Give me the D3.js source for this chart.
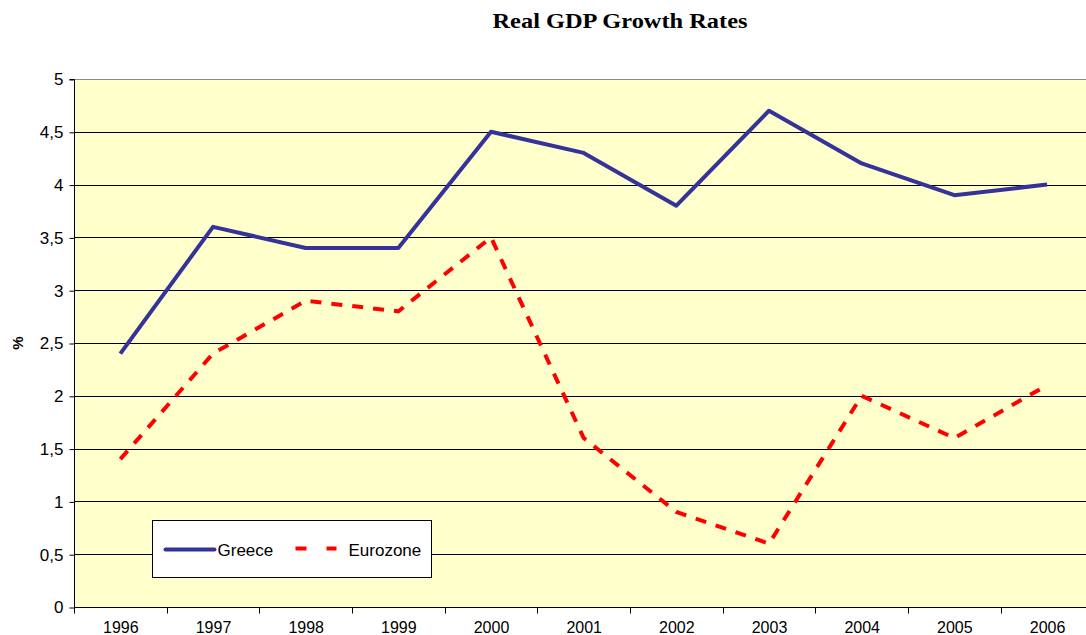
<!DOCTYPE html>
<html>
<head>
<meta charset="utf-8">
<script src="https://cdn.jsdelivr.net/npm/d3@7"></script>
<style>
  body { margin: 0; background: #fff; }
  svg { display: block; }
</style>
</head>
<body>
<script>
const years = ["1996", "1997", "1998", "1999", "2000", "2001", "2002", "2003", "2004", "2005", "2006"];
const greece = [2.4, 3.6, 3.4, 3.4, 4.5, 4.3, 3.8, 4.7, 4.2, 3.9, 4.0];
const eurozone = [1.4, 2.4, 2.9, 2.8, 3.5, 1.6, 0.9, 0.6, 2.0, 1.6, 2.1];
const yTicks = [0, 0.5, 1, 1.5, 2, 2.5, 3, 3.5, 4, 4.5, 5];

const config = {
    width: 1086,
    height: 635,
    left: 74,
    top: 79,
    bottom: 607,
    band: 92.67
};

const svg = d3.select("body").append("svg")
    .attr("width", config.width)
    .attr("height", config.height);

const x = d3.scaleBand()
    .domain(years)
    .range([config.left, config.left + config.band * years.length]);

const y = d3.scaleLinear()
    .domain([0, 5])
    .range([config.bottom, config.top]);

// plot background
svg.append("rect")
    .attr("x", config.left)
    .attr("y", config.top)
    .attr("width", config.band * years.length)
    .attr("height", config.bottom - config.top)
    .style("fill", "#ffffcc");

// gridlines
svg.selectAll("line.grid")
    .data(yTicks.filter(d => d > 0))
    .enter()
    .append("line")
    .attr("class", "grid")
    .attr("x1", config.left)
    .attr("x2", config.width)
    .attr("y1", d => Math.round(y(d)) + 0.5)
    .attr("y2", d => Math.round(y(d)) + 0.5)
    .style("stroke", d => d === 5 ? "#8c8c8c" : "#000")
    .style("stroke-width", 1);

// y axis
const yAxis = svg.append("g")
    .attr("transform", `translate(${config.left + 0.5},0.5)`)
    .call(d3.axisLeft(y).tickValues(yTicks).tickSize(5).tickPadding(6)
        .tickFormat(d => String(d).replace(".", ",")));
yAxis.select(".domain").attr("d", `M-5,${config.top}H0V${config.bottom}`).style("stroke", "#000");
yAxis.selectAll("text")
    .style("font-family", "Arial, 'Liberation Sans', sans-serif")
    .style("font-size", "17px")
    .style("fill", "#000");

// x axis
const xAxis = svg.append("g")
    .attr("transform", `translate(0.5,${Math.round(config.bottom) + 0.5})`);
xAxis.append("line")
    .attr("x1", config.left)
    .attr("x2", config.width)
    .style("stroke", "#000");
xAxis.selectAll("line.tick")
    .data(years)
    .enter()
    .append("line")
    .attr("class", "tick")
    .attr("x1", d => Math.round(x(d)))
    .attr("x2", d => Math.round(x(d)))
    .attr("y1", 0)
    .attr("y2", 6)
    .style("stroke", "#000");
xAxis.selectAll("text")
    .data(years)
    .enter()
    .append("text")
    .attr("x", d => x(d) + x.bandwidth() / 2)
    .attr("y", 25)
    .attr("text-anchor", "middle")
    .style("font-family", "Arial, 'Liberation Sans', sans-serif")
    .style("font-size", "16px")
    .text(d => d);

// lines
const line = d3.line()
    .x((d, i) => x(years[i]) + x.bandwidth() / 2)
    .y(d => y(d));

svg.append("path")
    .datum(eurozone)
    .attr("d", line)
    .style("fill", "none")
    .style("stroke", "#ff0000")
    .style("stroke-width", 4)
    .style("stroke-dasharray", "11,10");

svg.append("path")
    .datum(greece)
    .attr("d", line)
    .style("fill", "none")
    .style("stroke", "#333399")
    .style("stroke-width", 4)
    .style("stroke-linejoin", "round");

// title
svg.append("text")
    .attr("x", 620)
    .attr("y", 28)
    .attr("text-anchor", "middle")
    .attr("textLength", 255)
    .attr("lengthAdjust", "spacingAndGlyphs")
    .style("font-family", "'Times New Roman', 'Liberation Serif', serif")
    .style("font-weight", "bold")
    .style("font-size", "22px")
    .text("Real GDP Growth Rates");

// y label
svg.append("text")
    .attr("transform", "translate(23,343) rotate(-90)")
    .attr("text-anchor", "middle")
    .style("font-family", "Arial, 'Liberation Sans', sans-serif")
    .style("font-weight", "bold")
    .style("font-size", "15px")
    .text("%");

// legend
const legend = svg.append("g").attr("transform", "translate(152.5,520.5)");
legend.append("rect")
    .attr("width", 279)
    .attr("height", 57)
    .style("fill", "#fff")
    .style("stroke", "#000");
legend.append("line")
    .attr("x1", 13).attr("x2", 62)
    .attr("y1", 29).attr("y2", 29)
    .style("stroke", "#333399")
    .style("stroke-width", 4)
    .style("stroke-linecap", "round");
legend.append("text")
    .attr("x", 65).attr("y", 35)
    .style("font-family", "Arial, 'Liberation Sans', sans-serif")
    .style("font-size", "17px")
    .text("Greece");
legend.append("line")
    .attr("x1", 143).attr("x2", 184)
    .attr("y1", 28).attr("y2", 28)
    .style("stroke", "#ff0000")
    .style("stroke-width", 4)
    .style("stroke-dasharray", "11,20");
legend.append("text")
    .attr("x", 196).attr("y", 35)
    .style("font-family", "Arial, 'Liberation Sans', sans-serif")
    .style("font-size", "17px")
    .text("Eurozone");
</script>
</body>
</html>
